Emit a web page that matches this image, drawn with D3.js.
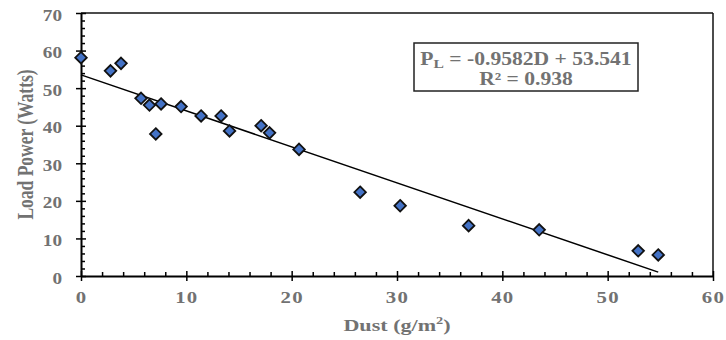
<!DOCTYPE html>
<html>
<head>
<meta charset="utf-8">
<script src="https://cdn.jsdelivr.net/npm/d3@7"></script>
<style>
  body { margin: 0; background: #fff; }
  text { font-family: "Liberation Serif", "Times New Roman", serif; }
</style>
</head>
<body>
<div id="chart"></div>
<script>
const width = 726;
const height = 340;

// Data
const dust = [0, 2.8, 3.8, 5.7, 6.5, 7.1, 7.6, 9.5, 11.4, 13.3, 14.1, 17.1, 17.9, 20.7, 26.5, 30.3, 36.8, 43.5, 52.9, 54.8];
const power = [58.1, 54.6, 56.6, 47.3, 45.5, 37.8, 45.8, 45.1, 42.6, 42.6, 38.6, 40.0, 38.1, 33.7, 22.3, 18.7, 13.4, 12.3, 6.7, 5.6];
const xTicks = [0, 10, 20, 30, 40, 50, 60];
const yTicks = [0, 10, 20, 30, 40, 50, 60, 70];
const slope = -0.9582;
const intercept = 53.541;
const trendRange = [0, 54.8];

const margin = { top: 13, right: 13, bottom: 64, left: 81 };
const labelColor = "#727272";
// the original picture looks stretched sideways, so text is widened
const stretch = 1.3;

const svg = d3.select("#chart").append("svg")
  .attr("width", width)
  .attr("height", height);

const x = d3.scaleLinear().domain([0, 60]).range([margin.left, width - margin.right]);
const y = d3.scaleLinear().domain([0, 70]).range([height - margin.bottom, margin.top]);

// frame: top and right
svg.append("line")
  .attr("x1", x(0)).attr("x2", x(60))
  .attr("y1", y(70)).attr("y2", y(70))
  .attr("stroke", "#111").attr("stroke-width", 1.5);
svg.append("line")
  .attr("x1", x(60)).attr("x2", x(60))
  .attr("y1", y(0)).attr("y2", y(70))
  .attr("stroke", "#111").attr("stroke-width", 1.5);

// minor ticks (inside)
const xMinor = d3.range(0, 61, 2).filter(v => v % 10 !== 0);
const yMinor = d3.range(0, 71, 2).filter(v => v % 10 !== 0);
svg.append("g").attr("transform", `translate(0,${y(0)})`)
  .call(d3.axisTop(x).tickValues(xMinor).tickSize(4).tickFormat(""))
  .call(g => g.select(".domain").remove())
  .selectAll("line").attr("stroke-width", 1.5);
svg.append("g").attr("transform", `translate(${x(0)},0)`)
  .call(d3.axisRight(y).tickValues(yMinor).tickSize(4).tickFormat(""))
  .call(g => g.select(".domain").remove())
  .selectAll("line").attr("stroke-width", 1.5);

// major ticks crossing
svg.append("g").attr("transform", `translate(0,${y(0)})`)
  .call(d3.axisTop(x).tickValues(xTicks).tickSize(5).tickFormat(""))
  .call(g => g.select(".domain").remove())
  .selectAll("line").attr("stroke-width", 1.5);
svg.append("g").attr("transform", `translate(${x(0)},0)`)
  .call(d3.axisRight(y).tickValues(yTicks).tickSize(5).tickFormat(""))
  .call(g => g.select(".domain").remove())
  .selectAll("line").attr("stroke-width", 1.5);

// x axis
const xAxis = svg.append("g").attr("transform", `translate(0,${y(0)})`)
  .call(d3.axisBottom(x).tickValues(xTicks).tickSize(5).tickSizeOuter(0));
xAxis.select(".domain").attr("stroke-width", 2);
xAxis.selectAll("line").attr("stroke-width", 1.5);
xAxis.selectAll("text")
  .attr("y", 0).attr("dy", 0)
  .attr("transform", `translate(0,27) scale(${stretch},1)`)
  .attr("font-family", "Liberation Serif")
  .attr("font-size", 16).attr("font-weight", "bold")
  .attr("letter-spacing", 1)
  .attr("fill", labelColor);

// y axis
const yAxis = svg.append("g").attr("transform", `translate(${x(0)},0)`)
  .call(d3.axisLeft(y).tickValues(yTicks).tickSize(5).tickSizeOuter(0));
yAxis.select(".domain").attr("stroke-width", 2);
yAxis.selectAll("line").attr("stroke-width", 1.5);
yAxis.selectAll("text")
  .attr("x", 0).attr("dy", 0)
  .attr("transform", `translate(-19,7) scale(1.2,1)`)
  .attr("font-family", "Liberation Serif")
  .attr("font-size", 16).attr("font-weight", "bold")
  .attr("fill", labelColor);

// axis titles
const xTitle = svg.append("text")
  .attr("transform", `translate(${(x(0) + x(60)) / 2},331) scale(${stretch},1)`)
  .attr("text-anchor", "middle")
  .attr("font-size", 17).attr("font-weight", "bold")
  .attr("fill", labelColor)
  .text("Dust (g/m");
xTitle.append("tspan").attr("font-size", 11).attr("dy", -7).text("2");
xTitle.append("tspan").attr("dy", 7).text(")");

svg.append("text")
  .attr("transform", `translate(33,${(y(0) + y(70)) / 2}) scale(${stretch},1) rotate(-90)`)
  .attr("text-anchor", "middle")
  .attr("font-size", 17.5).attr("font-weight", "bold")
  .attr("fill", labelColor)
  .text("Load Power (Watts)");

// trendline
svg.append("line")
  .attr("x1", x(trendRange[0])).attr("y1", y(slope * trendRange[0] + intercept))
  .attr("x2", x(trendRange[1])).attr("y2", y(slope * trendRange[1] + intercept))
  .attr("stroke", "#000").attr("stroke-width", 1.5);

// points
const points = dust.map((d, i) => ({ d: d, p: power[i] }));
svg.append("g").selectAll("path")
  .data(points)
  .enter()
  .append("path")
  .attr("d", d3.symbol().type(d3.symbolDiamond2).size(85))
  .attr("transform", d => `translate(${x(d.d)},${y(d.p)})`)
  .attr("fill", "#4372c6")
  .attr("stroke", "#111")
  .attr("stroke-width", 1.8);

// equation box
svg.append("rect")
  .attr("x", 414).attr("y", 43)
  .attr("width", 224).attr("height", 48)
  .attr("fill", "#fff")
  .attr("stroke", "#222").attr("stroke-width", 1.5);

const eq = svg.append("text")
  .attr("transform", `translate(526,65) scale(1.2,1)`)
  .attr("text-anchor", "middle")
  .attr("font-size", 18).attr("font-weight", "bold")
  .attr("fill", labelColor)
  .text("P");
eq.append("tspan").attr("font-size", 13).attr("dy", 3).text("L");
eq.append("tspan").attr("dy", -3).text(" = -0.9582D + 53.541");

svg.append("text")
  .attr("transform", `translate(526,85) scale(1.2,1)`)
  .attr("text-anchor", "middle")
  .attr("font-size", 18).attr("font-weight", "bold")
  .attr("fill", labelColor)
  .text("R² = 0.938");
</script>
</body>
</html>
